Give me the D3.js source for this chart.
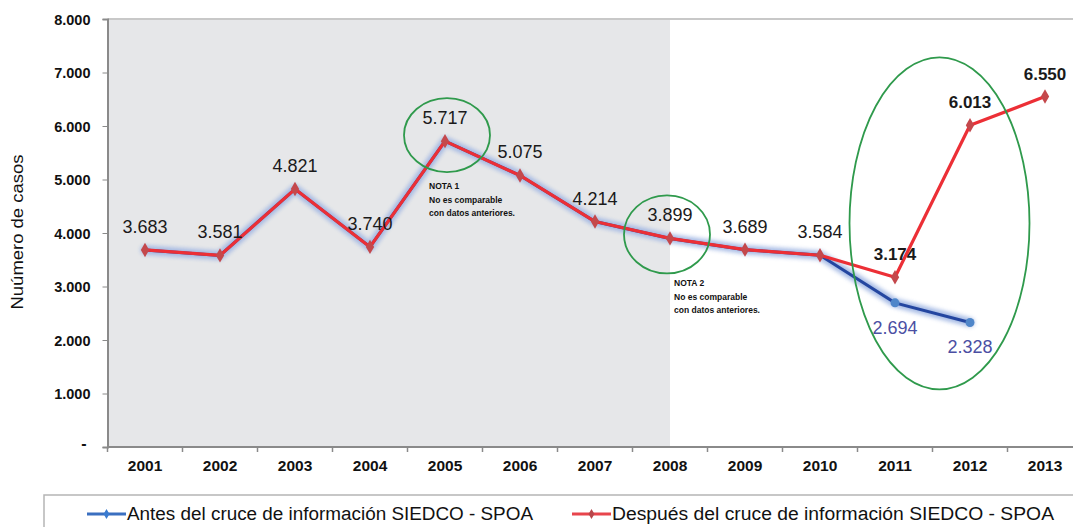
<!DOCTYPE html>
<html><head><meta charset="utf-8">
<script src="https://cdn.jsdelivr.net/npm/d3@7"></script>
<style>body{margin:0;background:#fff;} svg{display:block;font-family:"Liberation Sans",Arial,sans-serif;}</style>
</head><body>
<svg id="c" width="1073" height="527"></svg>
<script>
const years = ["2001","2002","2003","2004","2005","2006","2007","2008","2009","2010","2011","2012","2013"];
const antes = [3683,3581,4821,3740,5717,5075,4214,3899,3689,3584,2694,2328];
const despues = [3683,3581,4821,3740,5717,5075,4214,3899,3689,3584,3174,6013,6550];
const yTicks = [0,1000,2000,3000,4000,5000,6000,7000,8000];
const seriesNames = ["Antes del cruce de información SIEDCO - SPOA","Después del cruce de información SIEDCO - SPOA"];
const notes = [
  {year:"2005", lines:["NOTA 1","No es comparable","con datos anteriores."]},
  {year:"2008", lines:["NOTA 2","No es comparable","con datos anteriores."]}
];

const svg = d3.select("#c");
const L = 107.5, R = 1082.5, T = 19, B = 447;
const xb = d3.scaleBand().domain(years).range([L, R]);
const bw = xb.bandwidth();
const x = d => xb(d) + bw/2;
const y = d3.scaleLinear().domain([0,8000]).range([B, T]);
const loc = d3.formatLocale({decimal:",", thousands:".", grouping:[3], currency:["",""]});
const fmt = loc.format(",.0f");

const defs = svg.append("defs");
const f = defs.append("filter").attr("id","glow").attr("x","-10%").attr("y","-20%").attr("width","120%").attr("height","140%");
f.append("feGaussianBlur").attr("stdDeviation",2.2);

// shaded region to 2008
svg.append("rect").attr("x", L).attr("y", T).attr("width", x("2008") - L).attr("height", B - T).attr("fill", "#e6e7e9");
// top border
svg.append("line").attr("x1", L).attr("x2", 1073).attr("y1", T).attr("y2", T).attr("stroke", "#c8c8c8").attr("stroke-width", 2);

// y axis
const ya = svg.append("g").attr("transform", `translate(${L},0)`)
  .call(d3.axisLeft(y).tickValues(yTicks).tickSize(5).tickPadding(12).tickFormat(d => d === 0 ? "-" : fmt(d)));
ya.select(".domain").attr("stroke", "#8a8a8a").attr("stroke-width", 2);
ya.selectAll(".tick line").attr("stroke", "#8a8a8a");
ya.selectAll("text").attr("font-size", 14.5).attr("font-weight", "bold").attr("fill", "#111").attr("dy","0.35em");
ya.selectAll(".tick").filter(d => d === 0).select("text").attr("font-size", 16).attr("dy","0.1em").attr("dx","-4");

// x axis
const xa = svg.append("g").attr("transform", `translate(0,${B})`)
  .call(d3.axisBottom(xb).tickSize(0).tickPadding(13));
xa.select(".domain").remove();
xa.selectAll("text").attr("font-size", 15.5).attr("font-weight", "bold").attr("fill", "#111");
svg.append("line").attr("x1", L).attr("x2", 1073).attr("y1", B).attr("y2", B).attr("stroke", "#8a8a8a").attr("stroke-width", 2);
svg.append("g").selectAll("line").data(years).join("line")
  .attr("x1", d => xb(d)).attr("x2", d => xb(d)).attr("y1", B).attr("y2", B + 5)
  .attr("stroke", "#8a8a8a").attr("stroke-width", 1.5);

// y title
svg.append("text").attr("transform", "translate(23,232) rotate(-90)").attr("text-anchor", "middle")
  .attr("font-size", 16).attr("fill", "#111").attr("textLength", 155).attr("lengthAdjust","spacingAndGlyphs").text("Nuúmero de casos");

// lines
const line = d3.line().x(d => x(d.year)).y(d => y(d.v));
const aData = antes.map((v,i) => ({year: years[i], v}));
const dData = despues.map((v,i) => ({year: years[i], v}));

svg.append("path").datum(aData).attr("d", line).attr("fill","none").attr("stroke","#9db4e2").attr("stroke-width",9)
  .attr("stroke-linejoin","round").attr("stroke-linecap","round").attr("filter","url(#glow)").attr("opacity",0.9);
svg.append("path").datum(aData).attr("d", line).attr("fill","none").attr("stroke","#2446a0").attr("stroke-width",3);
svg.append("path").datum(dData).attr("d", line).attr("fill","none").attr("stroke","#ec2f36").attr("stroke-width",3.2).attr("stroke-linejoin","round");

// markers
const diamond = d3.symbol().type(d3.symbolDiamond).size(60);
svg.append("g").selectAll("circle").data(aData.slice(10)).join("circle")
  .attr("cx", d => x(d.year)).attr("cy", d => y(d.v)).attr("r", 4.5).attr("fill", "#4f86c9");
svg.append("g").selectAll("path").data(dData).join("path")
  .attr("d", diamond).attr("transform", d => `translate(${x(d.year)},${y(d.v)})`).attr("fill", "#c4484c");

// data labels
svg.append("g").selectAll("text").data(dData).join("text")
  .attr("x", d => x(d.year)).attr("y", d => y(d.v) - 17).attr("text-anchor", "middle")
  .attr("font-size", (d,i) => i >= 10 ? 17 : 18).attr("fill", "#1a1a1a")
  .attr("font-weight", (d,i) => i >= 10 ? "bold" : "normal")
  .text(d => fmt(d.v));
svg.append("g").selectAll("text").data(aData.slice(10)).join("text")
  .attr("x", d => x(d.year)).attr("y", d => y(d.v) + 31).attr("text-anchor", "middle")
  .attr("font-size", 18).attr("fill", "#4b4fa3")
  .text(d => fmt(d.v));

// notes
notes.forEach((n, k) => {
  const idx = years.indexOf(n.year);
  const t = svg.append("text").attr("x", x(n.year) - 16 + k*20).attr("y", y(despues[idx]) + 48)
    .attr("font-size", 8.5).attr("fill", "#111").attr("font-weight","bold");
  n.lines.forEach((s, j) => t.append("tspan").attr("x", x(n.year) - 16 + k*20).attr("dy", j === 0 ? 0 : 13.5).text(s));
});

// ellipses
const g = svg.append("g").attr("fill","none").attr("stroke","#2f9a4c").attr("stroke-width",1.8);
g.append("ellipse").attr("cx", x("2005") + 2).attr("cy", y(5717) - 6).attr("rx", 43).attr("ry", 37);
g.append("ellipse").attr("cx", x("2008") - 3).attr("cy", y(3899) - 4).attr("rx", 43).attr("ry", 39);
g.append("ellipse").attr("cx", (x("2011") + x("2012"))/2 + 7).attr("cy", y(4180)).attr("rx", 90).attr("ry", 166);

// legend
svg.append("rect").attr("x", 44).attr("y", 495).attr("width", 1100).attr("height", 60).attr("fill","#fff").attr("stroke","#b5b5b5").attr("stroke-width",1.5);
const legColors = ["#3a6fc0", "#e8454c"];
const legMark = ["#3a7bd0", "#b8474b"];
const legX = [87, 572];
const legW = [406, 442];
seriesNames.forEach((s, i) => {
  const lg = svg.append("g").attr("transform", `translate(${legX[i]},514)`);
  lg.append("line").attr("x1",0).attr("x2",39).attr("stroke",legColors[i]).attr("stroke-width",3);
  lg.append("path").attr("d", d3.symbol().type(d3.symbolDiamond).size(30)).attr("transform","translate(19.5,0)").attr("fill",legMark[i]);
  lg.append("text").attr("x", 40).attr("dy","0.35em").attr("font-size", 18).attr("fill","#111")
    .attr("textLength", legW[i]).attr("lengthAdjust","spacingAndGlyphs").text(s);
});
</script>
</body></html>
